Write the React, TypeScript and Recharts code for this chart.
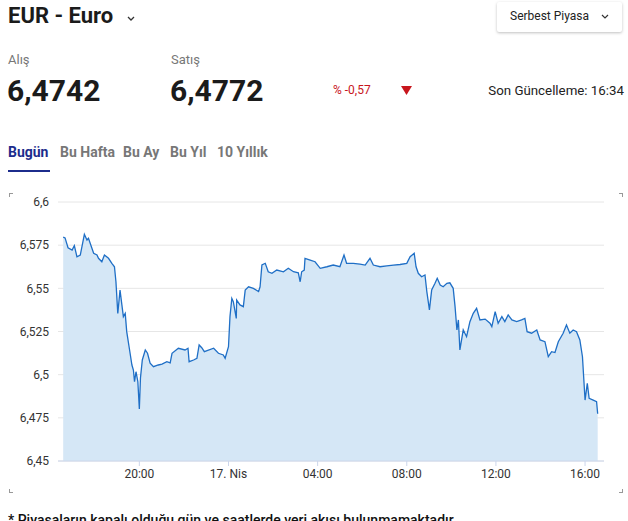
import React from "react";
import {
  AreaChart,
  Area,
  XAxis,
  YAxis,
  CartesianGrid,
} from "recharts";

// EUR / TRY intraday (16 Nis 16:35 -> 17 Nis 16:34)
const times = [
  "16:35", "16:40", "16:48", "16:59", "17:05", "17:12", "17:21", "17:32", "17:39", "17:43",
  "17:57", "18:06", "18:10", "18:19", "18:26", "18:37", "18:46", "18:53", "18:57", "19:02",
  "19:08", "19:13", "19:17", "19:22", "19:26", "19:33", "19:40", "19:44", "19:47", "19:51",
  "19:56", "20:00", "20:03", "20:08", "20:16", "20:22", "20:29", "20:38", "20:51", "21:01",
  "21:14", "21:23", "21:28", "21:45", "22:03", "22:11", "22:14", "22:26", "22:35", "22:41",
  "22:48", "22:55", "23:20", "23:33", "23:46", "23:51", "00:00", "00:04", "00:09", "00:13",
  "00:21", "00:22", "00:31", "00:40", "00:45", "00:54", "01:07", "01:21", "01:25", "01:30",
  "01:39", "01:47", "01:57", "02:10", "02:28", "02:41", "02:55", "03:08", "03:13", "03:17",
  "03:24", "03:26", "03:40", "03:53", "04:07", "04:25", "04:42", "05:00", "05:11", "05:18",
  "05:36", "05:54", "06:08", "06:21", "06:30", "06:48", "07:06", "07:24", "07:42", "08:00",
  "08:09", "08:20", "08:25", "08:31", "08:40", "08:49", "08:54", "09:01", "09:07", "09:16",
  "09:22", "09:30", "09:38", "09:48", "09:56", "10:05", "10:10", "10:15", "10:19", "10:23",
  "10:32", "10:41", "10:50", "10:59", "11:08", "11:17", "11:31", "11:44", "11:49", "11:58",
  "12:06", "12:16", "12:24", "12:33", "12:43", "12:56", "13:09", "13:18", "13:24", "13:36",
  "13:50", "13:59", "14:12", "14:21", "14:30", "14:39", "14:48", "15:01", "15:10", "15:19",
  "15:28", "15:37", "15:46", "15:53", "16:00", "16:06", "16:11", "16:22", "16:31", "16:34",
];

const rates = [
  6.5797, 6.5792, 6.5735, 6.5722, 6.5747, 6.5683, 6.5693, 6.5813, 6.578, 6.579,
  6.5703, 6.5693, 6.5674, 6.5654, 6.5693, 6.5674, 6.5645, 6.5625, 6.5538, 6.5355,
  6.549, 6.5404, 6.5336, 6.5355, 6.5249, 6.5153, 6.5056, 6.5027, 6.4959, 6.5017,
  6.4959, 6.4801, 6.4981, 6.5085, 6.5143, 6.5124, 6.5066, 6.5046, 6.5056, 6.5061,
  6.5075, 6.5068, 6.5124, 6.5153, 6.5143, 6.5153, 6.5075, 6.5085, 6.5095, 6.5172,
  6.5156, 6.5133, 6.5153, 6.5124, 6.5114, 6.5095, 6.5162, 6.5336, 6.5442, 6.5423,
  6.5326, 6.5432, 6.5404, 6.5394, 6.549, 6.5509, 6.55, 6.5481, 6.5509, 6.5635,
  6.5645, 6.5596, 6.5587, 6.5606, 6.5596, 6.5616, 6.5596, 6.559, 6.5538, 6.5596,
  6.5606, 6.5674, 6.5664, 6.5654, 6.5616, 6.5625, 6.5635, 6.5625, 6.5693, 6.5645,
  6.5645, 6.564, 6.5635, 6.5674, 6.5635, 6.5625, 6.563, 6.5635, 6.5638, 6.5645,
  6.5683, 6.5703, 6.5625, 6.5587, 6.5567, 6.5577, 6.5481, 6.5375, 6.549, 6.5529,
  6.5558, 6.5519, 6.5509, 6.5529, 6.5532, 6.55, 6.5394, 6.5259, 6.5317, 6.5143,
  6.5259, 6.522, 6.5307, 6.5355, 6.5384, 6.5317, 6.5322, 6.5298, 6.5278, 6.5365,
  6.5298, 6.5336, 6.5307, 6.5346, 6.5317, 6.5307, 6.5317, 6.5326, 6.5249, 6.524,
  6.5259, 6.5201, 6.5191, 6.5104, 6.5133, 6.5128, 6.5191, 6.524, 6.5288, 6.524,
  6.5259, 6.5249, 6.5201, 6.5104, 6.4853, 6.495, 6.4863, 6.4853, 6.4843, 6.4774,
];

const yTicks = [6.45, 6.475, 6.5, 6.525, 6.55, 6.575, 6.6];
// minutes from 16 Nis 00:00
const xTicks = [1200, 1440, 1680, 1920, 2160, 2400];
const xDomain = [981, 2451];

const tabs = ["Bugün", "Bu Hafta", "Bu Ay", "Bu Yıl", "10 Yıllık"];

const toMinutes = (s: string) => {
  const [h, m] = s.split(":").map(Number);
  const v = h * 60 + m;
  return v < 995 ? v + 1440 : v;
};

const data = times.map((t, i) => ({ t: toMinutes(t), rate: rates[i] }));

const fmtX = (m: number) => {
  if (m === 1440) return "17. Nis";
  const mm = m % 1440;
  const h = Math.floor(mm / 60);
  const min = mm % 60;
  return `${String(h).padStart(2, "0")}:${String(min).padStart(2, "0")}`;
};

const fmtY = (v: number) => String(v).replace(".", ",");

const font = "Roboto, Arial, sans-serif";

function Corner({ x, y, r, b }: { x: number; y: number; r?: boolean; b?: boolean }) {
  return (
    <div
      style={{
        position: "absolute",
        left: x,
        top: y,
        width: 3,
        height: 3,
        borderTop: b ? undefined : "1px solid #999",
        borderBottom: b ? "1px solid #999" : undefined,
        borderLeft: r ? undefined : "1px solid #999",
        borderRight: r ? "1px solid #999" : undefined,
      }}
    />
  );
}

export default function App() {
  return (
    <div
      style={{
        position: "absolute",
        left: 0,
        top: 0,
        width: 628,
        height: 521,
        overflow: "hidden",
        background: "#fff",
        fontFamily: font,
        color: "#222",
      }}
    >
      <div style={{ position: "absolute", left: 8, top: 3, fontSize: 22, fontWeight: 700, color: "#1b1b1b" }}>
        EUR - Euro
      </div>
      <svg style={{ position: "absolute", left: 127, top: 16 }} width={8} height={6}>
        <path d="M1 1 L4 4 L7 1" stroke="#333" strokeWidth={1.3} fill="none" />
      </svg>

      <div
        style={{
          position: "absolute",
          left: 497,
          top: 2,
          width: 125,
          height: 30,
          boxShadow: "0 1px 3px rgba(0,0,0,0.25)",
          borderRadius: 2,
          background: "#fff",
        }}
      >
        <div style={{ position: "absolute", left: 13, top: 7, fontSize: 12, color: "#222" }}>Serbest Piyasa</div>
        <svg style={{ position: "absolute", left: 104, top: 12 }} width={8} height={6}>
          <path d="M1 1 L4 4 L7 1" stroke="#333" strokeWidth={1.2} fill="none" />
        </svg>
      </div>

      <div style={{ position: "absolute", left: 8, top: 52, fontSize: 13, color: "#777" }}>Alış</div>
      <div style={{ position: "absolute", left: 171, top: 52, fontSize: 13, color: "#777" }}>Satış</div>
      <div style={{ position: "absolute", left: 7, top: 73, fontSize: 30, fontWeight: 700, color: "#1b1b1b" }}>
        6,4742
      </div>
      <div style={{ position: "absolute", left: 170, top: 73, fontSize: 30, fontWeight: 700, color: "#1b1b1b" }}>
        6,4772
      </div>
      <div style={{ position: "absolute", left: 333, top: 83, fontSize: 12, color: "#c8161d" }}>% -0,57</div>
      <svg style={{ position: "absolute", left: 401, top: 86 }} width={11} height={9}>
        <path d="M0 0 L11 0 L5.5 9 Z" fill="#c8161d" />
      </svg>
      <div style={{ position: "absolute", right: 4, top: 83, fontSize: 13.3, color: "#222" }}>
        Son Güncelleme: 16:34
      </div>

      {tabs.map((t, i) => (
        <div
          key={t}
          style={{
            position: "absolute",
            left: [8, 60, 123, 170, 217][i],
            top: 144,
            fontSize: 14,
            fontWeight: 700,
            color: i === 0 ? "#1c2c8c" : "#777",
          }}
        >
          {t}
        </div>
      ))}
      <div style={{ position: "absolute", left: 8, top: 170, width: 42, height: 2, background: "#1c2c8c" }} />

      <Corner x={9} y={193} />
      <Corner x={619} y={193} r />
      <Corner x={9} y={489} b />
      <Corner x={619} y={489} r b />

      <div style={{ position: "absolute", left: 0, top: 190 }}>
        <AreaChart
          width={628}
          height={300}
          data={data}
          margin={{ top: 12, right: 24, bottom: 4, left: 13 }}
        >
          <CartesianGrid horizontal vertical={false} stroke="#e6e6e6" />
          <XAxis
            dataKey="t"
            type="number"
            domain={xDomain}
            ticks={xTicks}
            tickFormatter={fmtX}
            allowDataOverflow
            stroke="#ccd6eb"
            tickSize={5}
            tickMargin={3}
            height={25}
            tick={{ fill: "#333", fontSize: 12, fontFamily: font }}
          />
          <YAxis
            domain={[6.45, 6.6]}
            ticks={yTicks}
            tickFormatter={fmtY}
            axisLine={false}
            tickLine={false}
            tickSize={0}
            tickMargin={9}
            width={45}
            tick={{ fill: "#333", fontSize: 12, fontFamily: font }}
          />
          <Area
            type="linear"
            dataKey="rate"
            stroke="#1f6fc6"
            strokeWidth={1.3}
            fill="#d5e7f6"
            fillOpacity={1}
            dot={false}
            activeDot={false}
            isAnimationActive={false}
          />
        </AreaChart>
      </div>

      <div style={{ position: "absolute", left: 8, top: 512, fontSize: 14, fontWeight: 500, color: "#111", whiteSpace: "nowrap" }}>
        * Piyasaların kapalı olduğu gün ve saatlerde veri akışı bulunmamaktadır.
      </div>
    </div>
  );
}
